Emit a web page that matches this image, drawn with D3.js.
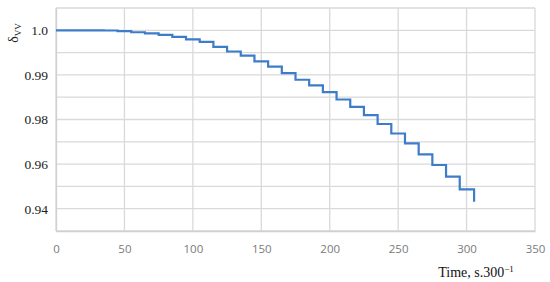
<!DOCTYPE html>
<html>
<head>
<meta charset="utf-8">
<script src="https://cdn.jsdelivr.net/npm/d3@7"></script>
<style>
  body { margin: 0; background: #fff; }
  svg { display: block; }
</style>
</head>
<body>
<svg width="550" height="282"></svg>
<script>
var svg = d3.select('svg');

// step times (s.300^-1) and the value held from each time on
const times = [0, 35, 45, 55, 65, 75, 85, 95, 105, 115, 125, 135, 145, 155, 165, 175,
    185, 195, 205, 215, 225, 235, 245, 255, 265, 275, 285, 295, 305.5];
const delta = [1.0, 0.99996, 0.9998, 0.99956, 0.99929, 0.99896, 0.99851, 0.99796, 0.99741,
    0.9963, 0.99525, 0.9943, 0.99304, 0.99186, 0.99038, 0.98891, 0.98765, 0.98616,
    0.98448, 0.98284, 0.981, 0.97798, 0.97372, 0.96933, 0.96439, 0.9596, 0.95435,
    0.9487, 0.94314];

const xTicks = [0, 50, 100, 150, 200, 250, 300, 350];
// the y axis of the original is not linear: labels sit at equal spacing
const yTicks = [1.0, 0.99, 0.98, 0.96, 0.94];
const yTickLabels = ['1.0', '0.99', '0.98', '0.96', '0.94'];
const yGrid = [1.005, 1.0, 0.995, 0.99, 0.985, 0.98, 0.97, 0.96, 0.95, 0.94, 0.93];

let pLeft = 56, pRight = 535, pTop = 8, pBottom = 231;
let step = (pBottom - pTop) / 10;

let x = d3.scaleLinear().domain([0, 350]).range([pLeft, pRight]);
let y = d3.scaleLinear()
    .domain([0.93, 0.94, 0.96, 0.98, 0.99, 1.0, 1.005])
    .range([pBottom, pBottom - step, pBottom - 3 * step, pBottom - 5 * step,
        pBottom - 7 * step, pBottom - 9 * step, pTop]);

// grid
let grid = svg.append('g').attr('stroke', '#d9d9d9').attr('stroke-width', 1.3);
grid.selectAll('line.v').data(xTicks).enter().append('line')
    .attr('x1', d => x(d)).attr('x2', d => x(d))
    .attr('y1', pTop).attr('y2', pBottom);
grid.selectAll('line.h').data(yGrid).enter().append('line')
    .attr('x1', pLeft).attr('x2', pRight)
    .attr('y1', d => y(d)).attr('y2', d => y(d));

// x axis
let xAxis = svg.append('g')
    .attr('transform', 'translate(0,' + pBottom + ')')
    .call(d3.axisBottom(x).tickValues(xTicks).tickSize(0).tickPadding(14));
xAxis.select('.domain').attr('stroke', '#d0d0d0').attr('stroke-width', 1.3);
xAxis.selectAll('text')
    .attr('fill', '#7a7a7a')
    .style('font-family', '"Open Sans", sans-serif')
    .style('font-size', '11.5px');

// y axis
let yAxis = svg.append('g')
    .attr('transform', 'translate(' + pLeft + ',0)')
    .call(d3.axisLeft(y).tickValues(yTicks).tickSize(0).tickPadding(8)
        .tickFormat((d, i) => yTickLabels[i]));
yAxis.select('.domain').attr('stroke', '#d0d0d0').attr('stroke-width', 1.3);
yAxis.selectAll('text')
    .attr('fill', '#222')
    .style('font-family', '"Liberation Serif", serif')
    .style('font-size', '13.5px');

// step line
let pts = times.map((t, i) => [t, delta[i]]);
let line = d3.line()
    .x(d => x(d[0]))
    .y(d => y(d[1]))
    .curve(d3.curveStepAfter);
svg.append('path')
    .datum(pts)
    .attr('d', line)
    .attr('fill', 'none')
    .attr('stroke', '#3d7cc9')
    .attr('stroke-width', 2.2);

// axis titles
let yt = svg.append('text')
    .attr('transform', 'translate(18,33) rotate(-90)')
    .attr('text-anchor', 'middle')
    .style('font-family', '"Liberation Serif", serif')
    .style('font-size', '14px')
    .attr('fill', '#222');
yt.append('tspan').text('δ');
yt.append('tspan').attr('dy', 3).style('font-size', '9px').text('VV');

let xt = svg.append('text')
    .attr('x', 476).attr('y', 277)
    .attr('text-anchor', 'middle')
    .style('font-family', '"Liberation Serif", serif')
    .style('font-size', '14px')
    .attr('fill', '#111');
xt.append('tspan').text('Time, s.300');
xt.append('tspan').attr('dy', -5).style('font-size', '9px').text('−1');
</script>
</body>
</html>
